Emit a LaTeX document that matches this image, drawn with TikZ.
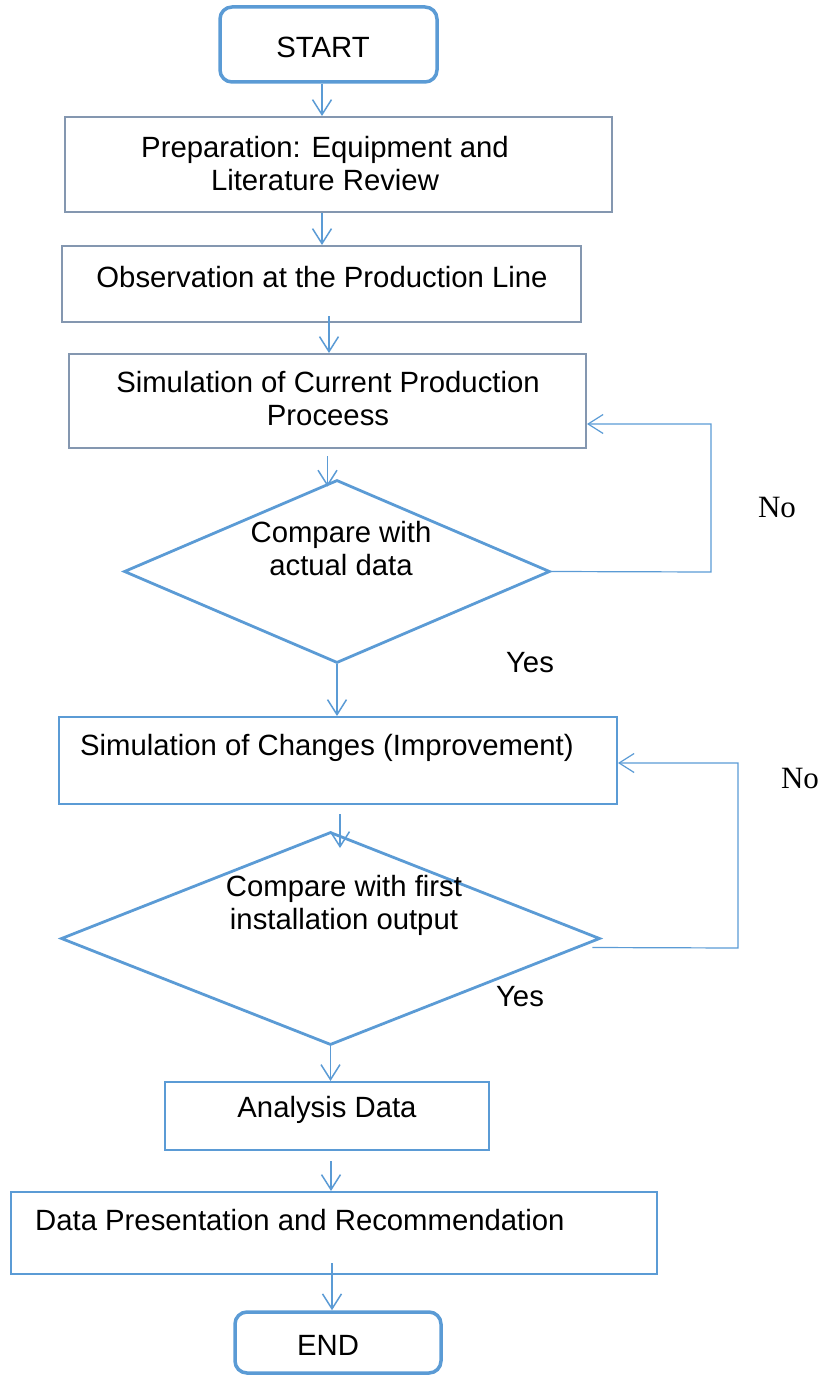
\documentclass[tikz,border=0pt]{standalone}
\usepackage{fontspec}
\setmainfont{Liberation Sans}
\newfontfamily\serifno{Liberation Serif}
\usetikzlibrary{shapes.geometric,arrows.meta}
\definecolor{flowblue}{HTML}{5B9BD5}
\definecolor{flowgray}{HTML}{8497B0}

\begin{document}
\begin{tikzpicture}[x=1pt,y=-1pt,
	box/.style = {draw=flowblue, line width=2pt, inner sep=0pt},
	greybox/.style = {draw=flowgray, line width=2pt, inner sep=0pt},
	term/.style = {draw=flowblue, line width=3.5pt, rounded corners=12pt, inner sep=0pt},
	decide/.style = {draw=flowblue, line width=2.8pt, diamond, inner sep=0pt},
	txt/.style = {font=\fontsize{29.3}{33}\selectfont, align=center, inner sep=0pt},
	notxt/.style = {font=\serifno\fontsize{31}{36}\selectfont, inner sep=0pt},
	arr/.style = {draw=flowblue, line width=1.5pt, -{Straight Barb[length=15pt,width=19pt]}},
	back/.style = {draw=flowblue, line width=1.2pt, -{Straight Barb[length=15pt,width=19pt]}}]
		\useasboundingbox (0,0) rectangle (827,1375);
		% Laatikot
		\node[term, minimum width=217pt, minimum height=75pt] (start) at (328.5,44.5) {};
		\node[greybox, minimum width=547pt, minimum height=95pt] (prep) at (338.5,164.5) {};
		\node[greybox, minimum width=519pt, minimum height=76pt] (obs) at (321.5,284) {};
		\node[greybox, minimum width=517pt, minimum height=94pt] (sim) at (327.5,401) {};
		\node[decide, minimum width=426pt, minimum height=183pt] (comp1) at (337,571.5) {};
		\node[box, minimum width=558pt, minimum height=87pt] (change) at (338,760.5) {};
		\node[decide, minimum width=539pt, minimum height=213pt] (comp2) at (330.5,938.5) {};
		\node[box, minimum width=324pt, minimum height=68pt] (anal) at (327,1116) {};
		\node[box, minimum width=646pt, minimum height=82pt] (pres) at (334,1233) {};
		\node[term, minimum width=206pt, minimum height=61pt] (end) at (338,1342.5) {};
		% Tekstit
		\node[txt] (start-t) at (323,47) {START};
		\node[txt] (prep-t) at (325,163.5) {Preparation: Equipment and\\Literature Review};
		\node[txt] (obs-t) at (322,277) {Observation at the Production Line};
		\node[txt] (sim-t) at (328,398.5) {Simulation of Current Production\\Proceess};
		\node[txt] (comp1-t) at (341,548.5) {Compare with\\actual data};
		\node[txt, anchor=west] (change-t) at (80,748) {Simulation of Changes (Improvement)};
		\node[txt] (comp2-t) at (344,905) {Compare with first\\installation output};
		\node[txt] (anal-t) at (327,1110) {Analysis Data};
		\node[txt, anchor=west] (pres-t) at (35,1220) {Data Presentation and Recommendation};
		\node[txt] (end-t) at (328,1345) {END};
		\node[txt] (yes1) at (530,663) {Yes};
		\node[txt] (yes2) at (520,997) {Yes};
		\node[notxt] (no1) at (777,507) {No};
		\node[notxt] (no2) at (800,778) {No};
		% Nuolet
		\draw[arr] ([xshift=-6.5pt]start.south) -- ([xshift=-6.5pt]start.south |- prep.north);
		\draw[arr] ([xshift=-16.5pt]prep.south) -- ([xshift=-16.5pt]prep.south |- obs.north);
		\draw[arr] ([xshift=7.5pt,yshift=7pt]obs.south) -- ([xshift=7.5pt]obs.south |- sim.north);
		\draw[arr] ([yshift=-7pt]sim.south) -- ([yshift=-8pt]sim.south |- comp1.north);
		\draw[arr] (comp1.south) -- (comp1.south |- change.north);
		\draw[arr] ([xshift=2pt,yshift=-9pt]change.south) -- ++(0,34);
		\draw[arr] (comp2.south) -- (comp2.south |- anal.north);
		\draw[arr] ([xshift=4pt,yshift=-10pt]anal.south) -- ([xshift=4pt]anal.south |- pres.north);
		\draw[arr] ([xshift=-2pt,yshift=12pt]pres.south) -- ([xshift=-2pt]pres.south |- end.north);
		% Takaisin
		\coordinate (r1a) at (711,572);
		\coordinate (r1b) at (711,424);
		\coordinate (r2a) at (738,948);
		\coordinate (r2b) at (738,763);
		\draw[back] (comp1.east) -- (r1a) -- (r1b) -- (r1b -| sim.east);
		\draw[back] ([shift={(-9,9)}]comp2.east) -- (r2a) -- (r2b) -- (r2b -| change.east);
\end{tikzpicture}
\end{document}
